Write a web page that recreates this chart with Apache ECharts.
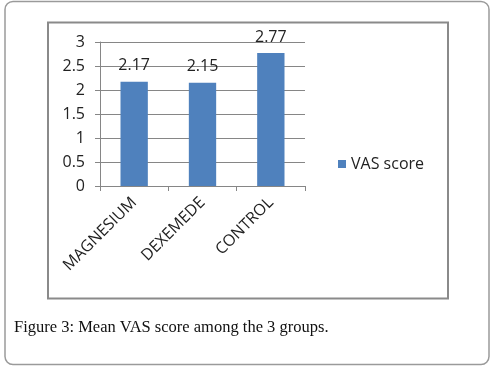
<!DOCTYPE html>
<html>
<head>
<meta charset="utf-8">
<script src="https://cdn.jsdelivr.net/npm/echarts@6/dist/echarts.min.js"></script>
<style>
  html, body { margin: 0; padding: 0; background: #fff; }
  #box { width: 495px; height: 369px; }
</style>
</head>
<body>
<div id="box"></div>
<script>
// data
const categories = ["MAGNESIUM", "DEXEMEDE", "CONTROL"];
const vasScore = [2.17, 2.15, 2.77];
const seriesName = "VAS score";
const caption = "Figure 3: Mean VAS score among the 3 groups.";

const chartFont = "'Open Sans', sans-serif";

let myChart = echarts.init(document.getElementById("box"), null, { renderer: "canvas" });

let option = {
  animation: false,
  backgroundColor: "#fff",
  textStyle: { fontFamily: chartFont },
  title: {
    text: caption,
    left: 9,
    top: 314,
    textStyle: {
      fontFamily: "'Liberation Serif', serif",
      fontSize: 16.5,
      fontWeight: "normal",
      color: "#111"
    }
  },
  legend: {
    data: [seriesName],
    left: 333,
    top: 151,
    itemWidth: 8,
    itemHeight: 8,
    itemGap: 6,
    icon: "rect",
    textStyle: { fontSize: 16, color: "#222", fontFamily: chartFont }
  },
  graphic: [
    {
      type: "rect",
      shape: { x: 5, y: 1.5, width: 484, height: 363, r: 8 },
      style: { fill: "none", stroke: "#9a9a9a", lineWidth: 1.5 },
      silent: true
    },
    {
      type: "rect",
      shape: { x: 48, y: 22.5, width: 400, height: 276 },
      style: { fill: "none", stroke: "#8a8a8a", lineWidth: 2 },
      silent: true
    }
  ],
  grid: {
    left: 100,
    right: 190,
    top: 42,
    bottom: 183
  },
  xAxis: {
    type: "category",
    data: categories,
    axisLine: { lineStyle: { color: "#868686", width: 1 } },
    axisTick: { show: true, length: 5, alignWithLabel: false, lineStyle: { color: "#868686" } },
    axisLabel: {
      rotate: 45,
      interval: 0,
      margin: 14,
      fontSize: 16,
      color: "#222",
      fontFamily: chartFont
    }
  },
  yAxis: {
    type: "value",
    min: 0,
    max: 3,
    interval: 0.5,
    axisLine: { show: true, lineStyle: { color: "#868686", width: 1 } },
    axisTick: { show: true, length: 5, lineStyle: { color: "#868686" } },
    splitLine: { show: true, lineStyle: { color: "#868686", width: 1 } },
    axisLabel: { fontSize: 16, color: "#222", margin: 15, fontFamily: chartFont }
  },
  series: [
    {
      name: seriesName,
      type: "bar",
      data: vasScore,
      barWidth: "40%",
      itemStyle: { color: "#4f81bd" },
      label: {
        show: true,
        position: "top",
        distance: 8,
        fontSize: 16,
        color: "#222",
        fontFamily: chartFont
      }
    }
  ]
};

myChart.setOption(option);
</script>
</body>
</html>
